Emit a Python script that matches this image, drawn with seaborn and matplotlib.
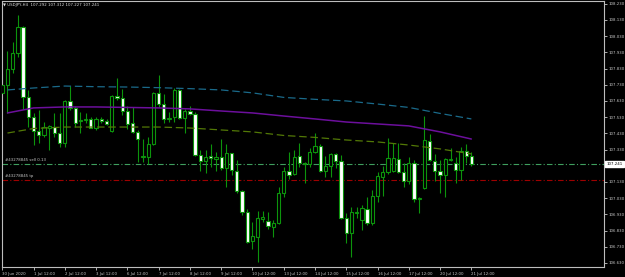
import numpy as np
import pandas as pd
import matplotlib
matplotlib.use("Agg")
import matplotlib.pyplot as plt
import matplotlib.transforms as mtransforms
import seaborn as sns

# USDJPY H4 candles, 30 Jun 12:00 .. 21 Jul 12:00
opens = [107.681, 107.727, 107.825, 107.924, 108.089, 107.653, 107.529, 107.445, 107.418, 107.463,
         107.469, 107.434, 107.373, 107.628, 107.589, 107.504, 107.513, 107.519, 107.465, 107.517,
         107.506, 107.445, 107.659, 107.650, 107.570, 107.492, 107.436, 107.282, 107.286, 107.364,
         107.681, 107.609, 107.517, 107.533, 107.698, 107.523, 107.568, 107.548, 107.297, 107.262,
         107.292, 107.274, 107.286, 107.214, 107.307, 107.200, 107.074, 106.947, 106.764, 106.792,
         106.904, 106.889, 106.854, 106.875, 107.060, 107.198, 107.177, 107.290, 107.249, 107.241,
         107.315, 107.352, 107.200, 107.231, 107.301, 107.262, 106.906, 106.817, 106.941, 106.895,
         106.965, 106.875, 107.046, 107.163, 107.194, 107.200, 107.272, 107.192, 107.138, 107.245,
         107.027, 107.091, 107.385, 107.262, 107.198, 107.171, 107.268, 107.249, 107.204, 107.323,
         107.292]
highs = [107.797, 107.941, 107.994, 108.159, 108.092, 107.698, 107.554, 107.574, 107.502, 107.480,
         107.554, 107.554, 107.636, 107.723, 107.599, 107.564, 107.554, 107.529, 107.533, 107.533,
         107.517, 107.667, 107.772, 107.702, 107.599, 107.591, 107.451, 107.393, 107.410, 107.688,
         107.790, 107.673, 107.564, 107.708, 107.702, 107.578, 107.599, 107.564, 107.327, 107.327,
         107.364, 107.317, 107.393, 107.364, 107.311, 107.266, 107.080, 106.961, 106.885, 106.953,
         106.953, 106.945, 106.895, 107.101, 107.225, 107.317, 107.327, 107.369, 107.255, 107.338,
         107.430, 107.364, 107.290, 107.307, 107.307, 107.297, 106.936, 106.978, 106.978, 106.988,
         107.035, 107.081, 107.194, 107.229, 107.399, 107.369, 107.373, 107.245, 107.282, 107.266,
         107.039, 107.539, 107.426, 107.303, 107.266, 107.276, 107.338, 107.282, 107.348, 107.364,
         107.312]
lows = [107.677, 107.554, 107.805, 107.904, 107.578, 107.471, 107.358, 107.373, 107.410, 107.327,
        107.410, 107.348, 107.348, 107.574, 107.471, 107.434, 107.492, 107.461, 107.451, 107.492,
        107.482, 107.441, 107.636, 107.543, 107.455, 107.430, 107.255, 107.255, 107.241, 107.358,
        107.595, 107.496, 107.502, 107.502, 107.517, 107.430, 107.541, 107.290, 107.200, 107.183,
        107.225, 107.200, 107.204, 107.097, 107.173, 107.064, 106.926, 106.755, 106.714, 106.638,
        106.885, 106.838, 106.788, 106.871, 107.039, 107.146, 107.173, 107.220, 107.122, 107.225,
        107.307, 107.194, 107.163, 107.159, 107.214, 106.899, 106.755, 106.669, 106.906, 106.834,
        106.864, 106.864, 107.008, 107.043, 107.179, 107.194, 107.188, 107.101, 107.118, 107.008,
        106.941, 107.085, 107.260, 107.138, 107.064, 107.035, 107.262, 107.126, 107.142, 107.245,
        107.227]
closes = [107.729, 107.825, 107.928, 108.089, 107.657, 107.533, 107.443, 107.422, 107.467, 107.476,
          107.434, 107.373, 107.630, 107.585, 107.496, 107.513, 107.521, 107.465, 107.519, 107.509,
          107.488, 107.661, 107.646, 107.570, 107.490, 107.436, 107.393, 107.290, 107.364, 107.681,
          107.611, 107.517, 107.525, 107.698, 107.523, 107.568, 107.548, 107.297, 107.262, 107.286,
          107.276, 107.286, 107.214, 107.307, 107.204, 107.074, 106.947, 106.762, 106.797, 106.906,
          106.912, 106.858, 106.875, 107.060, 107.200, 107.173, 107.286, 107.245, 107.241, 107.315,
          107.352, 107.200, 107.229, 107.301, 107.262, 106.906, 106.817, 106.945, 106.947, 106.967,
          106.879, 107.046, 107.167, 107.194, 107.276, 107.276, 107.192, 107.138, 107.245, 107.027,
          107.031, 107.389, 107.266, 107.198, 107.171, 107.270, 107.272, 107.204, 107.323, 107.290,
          107.241]

# moving averages, read every 6 bars
ma_bars = [1, 6, 12, 18, 24, 30, 36, 42, 48, 54, 60, 66, 72, 78, 84, 90]
ma_teal = [107.698, 107.710, 107.722, 107.718, 107.716, 107.712, 107.706, 107.698,
           107.680, 107.652, 107.640, 107.630, 107.611, 107.590, 107.553, 107.519]
ma_purple = [107.556, 107.587, 107.593, 107.593, 107.590, 107.587, 107.581, 107.568,
             107.556, 107.537, 107.519, 107.500, 107.488, 107.476, 107.439, 107.395]
ma_olive = [107.432, 107.460, 107.469, 107.469, 107.469, 107.469, 107.463, 107.451,
            107.439, 107.417, 107.405, 107.389, 107.377, 107.358, 107.334, 107.303]

sell_price = 107.243
tp_price = 107.142
last_price = 107.241

date_labels = ["30 Jun 2020", "1 Jul 12:00", "2 Jul 12:00", "3 Jul 12:00", "6 Jul 12:00",
               "7 Jul 12:00", "8 Jul 12:00", "9 Jul 12:00", "10 Jul 12:00", "13 Jul 12:00",
               "14 Jul 12:00", "15 Jul 12:00", "16 Jul 12:00", "17 Jul 12:00", "20 Jul 12:00",
               "21 Jul 12:00"]
date_bars = [0, 6, 12, 18, 24, 30, 36, 42, 48, 54, 60, 66, 72, 78, 84, 90]
price_ticks = [106.63, 106.73, 106.83, 106.93, 107.03, 107.13, 107.33, 107.43, 107.53,
               107.63, 107.73, 107.83, 107.93, 108.03, 108.13, 108.23]

df = pd.DataFrame({"open": opens, "high": highs, "low": lows, "close": closes})
df["bar"] = np.arange(len(df))
df["bull"] = df["close"] >= df["open"]

ma = pd.DataFrame({"bar": ma_bars, "teal": ma_teal, "purple": ma_purple, "olive": ma_olive})

sns.set_style("ticks", {"axes.facecolor": "black", "figure.facecolor": "black",
                        "axes.edgecolor": "#bdbdbd", "axes.grid": False})
plt.rcParams['font.family'] = ['DejaVu Sans']

fig = plt.figure(figsize=(6.25, 2.77), dpi=100)
ax = fig.add_axes([2 / 625, 10 / 277, 602 / 625, 266 / 277])

green = "#0c940c"
txt = "#c8c8c8"
fs = 2.8

# candles
ax.vlines(df["bar"], df["low"], df["high"], color=green, lw=0.8, zorder=2)
body_lo = df[["open", "close"]].min(axis=1)
body_h = (df["close"] - df["open"]).abs()
faces = np.where(df["bull"], "black", "white")
ax.bar(df["bar"], body_h, bottom=body_lo, width=0.62, color=faces,
       edgecolor=green, linewidth=0.8, zorder=3)

# moving averages
sns.lineplot(data=ma, x="bar", y="teal", ax=ax, color="#1a6a8a", lw=0.9,
             linestyle=(0, (6, 3)), zorder=4)
sns.lineplot(data=ma, x="bar", y="purple", ax=ax, color="#6c0f9c", lw=1.1, zorder=4)
sns.lineplot(data=ma, x="bar", y="olive", ax=ax, color="#527806", lw=0.9,
             linestyle=(0, (6, 3)), zorder=4)

# order lines
ax.axhline(sell_price, color="#3f9f5e", lw=0.8, linestyle=(0, (5, 2, 1, 2)), zorder=1)
ax.axhline(tp_price, color="#9e0000", lw=0.8, linestyle=(0, (5, 2, 1, 2)), zorder=1)
ax.text(0.6, sell_price + 0.012, "#43278845 sell 0.13", color=txt, fontsize=fs,
        va="bottom", ha="left")
ax.text(0.6, tp_price + 0.012, "#43278845 tp", color=txt, fontsize=fs,
        va="bottom", ha="left")

ax.set_xlim(-0.05, 115.45)
ax.set_ylim(106.605, 108.247)
ax.set_xlabel("")
ax.set_ylabel("")

ax.yaxis.tick_right()
ax.set_yticks(price_ticks)
ax.set_yticklabels([f"{p:.3f}" for p in price_ticks])
ax.tick_params(axis="y", length=2, width=0.6, pad=1.5, labelsize=fs, colors=txt)

ax.set_xticks(date_bars)
ax.set_xticklabels(date_labels, ha="left")
ax.tick_params(axis="x", length=2, width=0.6, pad=1.5, labelsize=fs, colors=txt)

for s in ax.spines.values():
    s.set_color("#bdbdbd")
    s.set_linewidth(0.8)

# current price box
trans = mtransforms.blended_transform_factory(ax.transAxes, ax.transData)
ax.text(1.004, last_price, f"{last_price:.3f}", transform=trans, fontsize=fs,
        color="black", ha="left", va="center",
        bbox=dict(boxstyle="square,pad=0.35", fc="white", ec="white"))

# header
fig.text(3 / 625, 1 - 5 / 277, "\u25bc USDJPY,H4  107.292 107.312 107.227 107.241",
         color="#e0e0e0", fontsize=fs, ha="left", va="center")

fig.savefig("out.png", dpi=100, facecolor="black")
